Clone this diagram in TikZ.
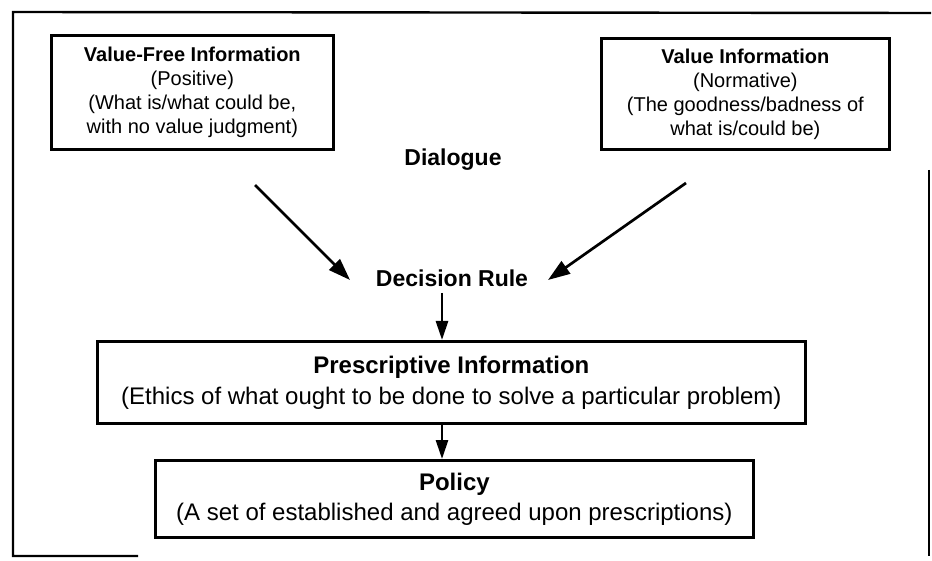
\documentclass[tikz,border=0pt]{standalone}
\usepackage{fontspec}
\setmainfont{Liberation Sans}
\usetikzlibrary{arrows.meta}
\begin{document}
\begin{tikzpicture}[x=1pt,y=-1pt,
  box/.style={draw, line width=2.7pt, inner sep=0pt, align=center, anchor=north west},
  smalltext/.style={font=\fontsize{20}{24}\selectfont},
  bigtext/.style={font=\fontsize{24}{30}\selectfont},
  label/.style={font=\fontsize{23}{28}\selectfont\bfseries, inner sep=0pt},
  arr/.style={line width=2.7pt, -{Triangle[length=22pt,width=15pt]}},
  downarr/.style={line width=2.7pt, -{Triangle[length=19pt,width=12pt]}},
  frame/.style={line width=2.4pt}
]
\useasboundingbox (0,0) rectangle (932,561);

% outer frame (open at the lower right)
\draw[frame] (138,556) -- (13,556) -- (13,12) -- (931,13);
\draw[line width=1.4pt] (929,170) -- (929,556);

% the two sources of information
\node[box, smalltext, minimum width=282pt, minimum height=114pt] (vf) at (50,34)
  {\textbf{Value-Free Information}\\(Positive)\\(What is/what could be,\\with no value judgment)};
\node[box, smalltext, minimum width=288pt, minimum height=111pt] (vi) at (600,37)
  {\textbf{Value Information}\\(Normative)\\(The goodness/badness of\\what is/could be)};

\node[label] (dl) at (453,160) {Dialogue};
\node[label] (dr) at (452,278) {Decision Rule};

% prescription and policy
\node[box, bigtext, font=\fontsize{24}{31}\selectfont, minimum width=708pt, minimum height=82pt] (pi) at (96,340)
  {\textbf{Prescriptive Information}\\(Ethics of what ought to be done to solve a particular problem)};
\node[box, bigtext, minimum width=598pt, minimum height=77pt] (po) at (154,459)
  {\textbf{Policy}\\(A set of established and agreed upon prescriptions)};

% connectors
\coordinate (t1) at (255,185);
\coordinate (h1) at (350,280);
\coordinate (t2) at (686,183);
\coordinate (h2) at (548,280);
\coordinate (d1) at (442,293);
\draw[arr] (t1) -- (h1);
\draw[arr] (t2) -- (h2);
\draw[downarr] (d1) -- (d1 |- pi.north);
\draw[downarr] (pi.south -| d1) -- (po.north -| d1);
\end{tikzpicture}
\end{document}
